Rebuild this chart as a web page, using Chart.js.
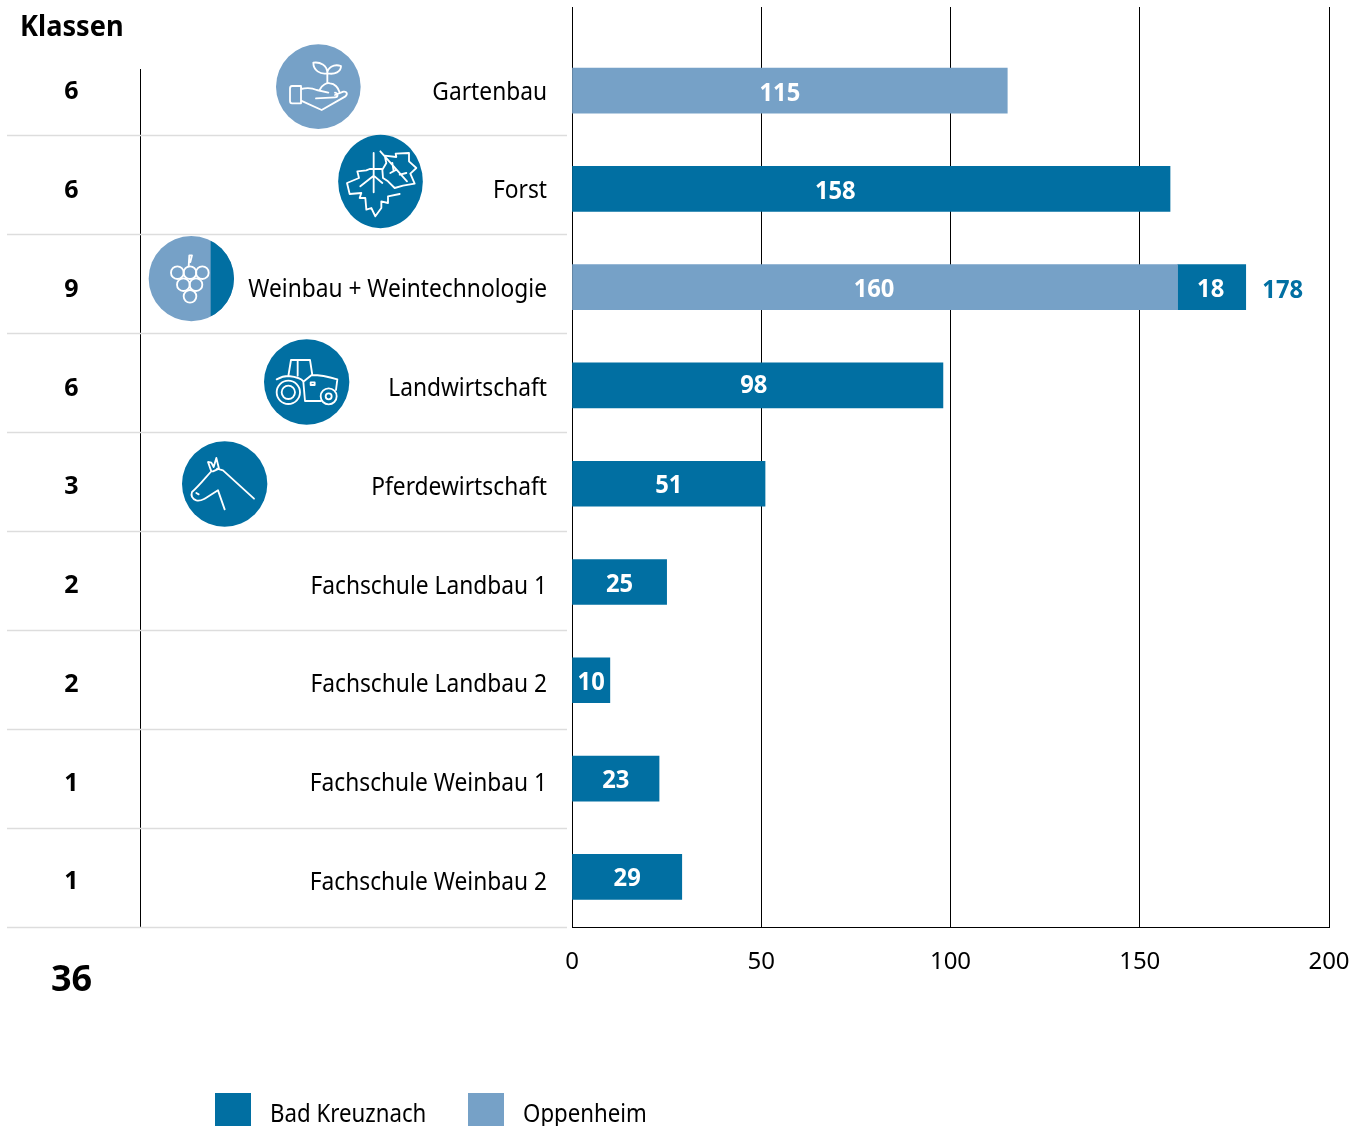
<!DOCTYPE html>
<html>
<head>
<meta charset="utf-8">
<title>Klassen</title>
<script src="https://cdn.jsdelivr.net/npm/chart.js@4/dist/chart.umd.min.js"></script>
<style>
body { margin: 0; background: #fff; }
canvas { display: block; }
</style>
</head>
<body>
<canvas id="myChart" width="1367" height="1126"></canvas>
<script>
const categories = ['Gartenbau', 'Forst', 'Weinbau + Weintechnologie', 'Landwirtschaft', 'Pferdewirtschaft',
    'Fachschule Landbau 1', 'Fachschule Landbau 2', 'Fachschule Weinbau 1', 'Fachschule Weinbau 2'];
const klassen = [6, 6, 9, 6, 3, 2, 2, 1, 1];
const klassenTotal = 36;
const oppenheim = [115, null, 160, null, null, null, null, null, null];
const badKreuznach = [null, 158, 18, 98, 51, 25, 10, 23, 29];
const xTicks = [0, 50, 100, 150, 200];

const DARK = '#016fa2';
const LIGHT = '#76a1c7';
const FONT = '"Noto Sans"';

// a few value labels do not sit in the bar centre in the original
const labelShiftX = {0: -10, 1: -36, 2: -1, 3: -4};
const labelShiftY = {0: 1, 1: 1, 3: -2};

// the reference type is narrower than Noto Sans, so squeeze it a bit
function narrowText(c, text, x, y, factor) {
    text = String(text);
    c.fillText(text, x, y, c.measureText(text).width * factor);
}

// icons: origin in page pixels, paths in 3x units
const icons = [
    {x: 270, y: 40, cx: 145, cy: 140, rx: 127, ry: 127, fill: LIGHT, path:
        'M93 147 C110 143 125 143 140 150 L175 158 ' +
        'M138 175 L195 172 C205 172 205 160 195 158 ' +
        'M93 182 L155 210 L225 170 C235 162 230 153 220 155 L195 165 ' +
        'M150 148 C155 135 170 128 180 130 C195 130 205 145 208 155 ' +
        'M172 130 L172 100 ' +
        'M172 100 C150 105 130 90 130 68 C150 65 172 75 172 100 Z ' +
        'M172 100 C172 85 190 70 213 78 C213 95 195 105 172 100 Z ' +
        'M66 138 L93 138 L93 190 L66 190 C60 190 60 186 60 182 L60 146 C60 142 60 138 66 138 Z'},
    {x: 333, y: 133, cx: 142.5, cy: 145.5, rx: 127, ry: 140, fill: DARK, path:
        'M122 60 L122 178 M82 160 L122 128 L148 150 ' +
        'M145 108 L110 108 L100 112 L73 115 L78 135 L42 150 L50 183 L85 180 L80 195 L97 195 L100 230 ' +
        'L115 225 L127 250 L145 225 L145 205 L165 210 L165 190 L200 183 ' +
        'M142 55 L222 145 M178 90 L182 115 M200 125 L220 120 M190 110 L172 120 ' +
        'M155 68 L190 72 L188 62 L228 60 L228 85 L250 105 L232 122 L245 152 L210 158 L185 165 ' +
        'L165 145 L150 135 L148 110 L160 90 Z'},
    {x: 145, y: 232, cx: 139, cy: 140, rx: 128, ry: 128, fill: LIGHT, splitAt: 197, circles:
        [[97, 122, 19], [135, 122, 19], [172, 122, 19], [115, 158, 19], [153, 158, 19], [135, 193, 19]],
        path: 'M131 103 L133 70 L141 70 L136 90'},
    {x: 260, y: 335, cx: 140, cy: 141, rx: 128, ry: 128, fill: DARK,
        circles: [[85, 172, 35], [85, 172, 20], [206, 184, 24], [206, 184, 9]],
        path: 'M50 133 C65 125 75 123 85 123 L93 75 L150 75 L157 120 M113 75 L113 122 ' +
            'M85 123 C105 125 125 130 130 140 L155 120 C185 120 205 125 232 133 L228 165 ' +
            'M130 140 L135 198 L183 198 M152 142 L164 142 L164 150 L152 150 Z'},
    {x: 178, y: 437, cx: 140, cy: 141, rx: 128, ry: 128, fill: DARK, path:
        'M117 95 L135 100 L228 185 ' +
        'M100 103 L90 75 L100 77 L107 90 L115 63 L123 95 L105 103 Z ' +
        'M98 105 C80 125 60 150 42 165 C38 175 42 185 55 190 C65 193 70 190 80 185 L120 160 L140 217 ' +
        'M55 168 L62 172'}
];

function drawIcon(c, ic) {
    c.save();
    c.translate(ic.x, ic.y);
    c.scale(1 / 3, 1 / 3);
    c.beginPath();
    c.ellipse(ic.cx, ic.cy, ic.rx, ic.ry, 0, 0, Math.PI * 2);
    c.fillStyle = ic.fill;
    c.fill();
    if (ic.splitAt) {
        c.save();
        c.clip();
        c.fillStyle = DARK;
        c.fillRect(ic.splitAt, 0, 200, 285);
        c.restore();
    }
    c.strokeStyle = '#fff';
    c.lineWidth = 5.5;
    c.lineJoin = 'round';
    c.lineCap = 'round';
    c.stroke(new Path2D(ic.path));
    (ic.circles || []).forEach(k => {
        c.beginPath();
        c.arc(k[0], k[1], k[2], 0, Math.PI * 2);
        c.stroke();
    });
    c.restore();
}

const tablePlugin = {
    id: 'table',
    afterDraw(chart) {
        const c = chart.ctx;
        const y = chart.scales.y;
        const rowY = i => y.getPixelForValue(i) + 0.5 + 0.5 * i;
        c.save();
        c.fillStyle = '#000';
        c.font = 'bold 28px ' + FONT;
        c.textBaseline = 'middle';
        narrowText(c, 'Klassen', 20, 28, 0.97);

        c.strokeStyle = '#000';
        c.lineWidth = 1;
        c.beginPath();
        c.moveTo(140.5, 69);
        c.lineTo(140.5, 927);
        c.stroke();

        c.strokeStyle = '#ddd';
        c.lineWidth = 1.5;
        categories.forEach((name, i) => {
            c.beginPath();
            c.moveTo(7, 135.5 + 99 * i);
            c.lineTo(567, 135.5 + 99 * i);
            c.stroke();
            c.fillStyle = '#000';
            c.textAlign = 'center';
            c.font = 'bold 25px ' + FONT;
            c.fillText(klassen[i], 71.5, rowY(i) + 1);
            c.textAlign = 'right';
            c.font = '25px ' + FONT;
            narrowText(c, name, 547, rowY(i) + 1.5, 0.91);
        });
        c.textAlign = 'center';
        c.font = 'bold 36px ' + FONT;
        c.fillStyle = '#000';
        c.fillText(klassenTotal, 71.5, 981);
        c.restore();
        icons.forEach(ic => drawIcon(c, ic));
    }
};

const valuePlugin = {
    id: 'values',
    afterDatasetsDraw(chart) {
        const c = chart.ctx;
        c.save();
        c.font = 'bold 25px ' + FONT;
        c.textAlign = 'center';
        c.textBaseline = 'middle';
        chart.data.datasets.forEach((ds, d) => {
            chart.getDatasetMeta(d).data.forEach((bar, i) => {
                if (ds.data[i].x == null) return;
                c.fillStyle = '#fff';
                narrowText(c, ds.data[i].x, (bar.x + bar.base) / 2 + (labelShiftX[i] || 0),
                    bar.y + 2.5 + (labelShiftY[i] || 0), 0.95);
            });
        });
        // total beside the one bar that has both schools
        const both = categories.findIndex((n, i) => oppenheim[i] != null && badKreuznach[i] != null);
        const bar = chart.getDatasetMeta(1).data[both];
        c.fillStyle = DARK;
        narrowText(c, oppenheim[both] + badKreuznach[both], bar.x + 37, bar.y + 4, 0.95);
        c.restore();
    }
};

const legendPlugin = {
    id: 'ownLegend',
    afterDraw(chart) {
        const c = chart.ctx;
        c.save();
        c.font = '25px ' + FONT;
        c.textBaseline = 'middle';
        [['Bad Kreuznach', DARK, 215], ['Oppenheim', LIGHT, 468]].forEach(item => {
            c.fillStyle = item[1];
            c.fillRect(item[2], 1093, 36, 33);
            c.fillStyle = '#000';
            c.textAlign = 'left';
            narrowText(c, item[0], item[2] + 55, 1114.5, 0.89);
        });
        c.restore();
    }
};

new Chart(document.getElementById('myChart'), {
    type: 'bar',
    data: {
        datasets: [
            {label: 'Oppenheim', data: oppenheim.map((v, i) => ({x: v, y: i})), backgroundColor: LIGHT, barThickness: 45},
            {label: 'Bad Kreuznach', data: badKreuznach.map((v, i) => ({x: v, y: i})), backgroundColor: DARK, barThickness: 45}
        ]
    },
    options: {
        indexAxis: 'y',
        responsive: false,
        animation: false,
        layout: {padding: {left: 572, right: 38, top: 7, bottom: 0}},
        plugins: {legend: {display: false}, tooltip: {enabled: false}},
        scales: {
            x: {
                type: 'linear',
                stacked: true,
                min: 0,
                max: 200,
                afterBuildTicks(scale) { scale.ticks = xTicks.map(v => ({value: v})); },
                afterFit(scale) { scale.height = 199; scale.paddingLeft = 0; scale.paddingRight = 0; },
                grid: {color: '#000', lineWidth: 1, drawTicks: false},
                border: {color: '#000'},
                ticks: {color: '#000', padding: 21, maxRotation: 0, font: {family: FONT, size: 24}}
            },
            y: {
                type: 'linear',
                stacked: true,
                reverse: true,
                offset: false,
                min: -0.85,
                max: 8.51,
                afterFit(scale) { scale.width = 0; },
                grid: {display: false},
                border: {color: '#000'},
                ticks: {display: false}
            }
        }
    },
    plugins: [tablePlugin, valuePlugin, legendPlugin]
});
</script>
</body>
</html>
